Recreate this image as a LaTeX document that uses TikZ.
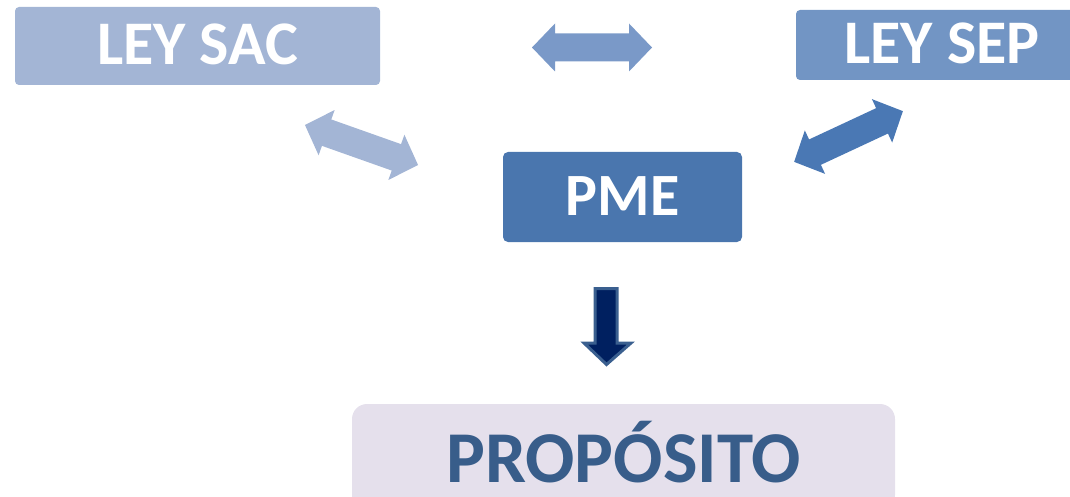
\documentclass[tikz,border=0pt]{standalone}
\usepackage{fontspec}
\setmainfont{Carlito}
\definecolor{sacblue}{HTML}{A3B5D5}
\definecolor{sepblue}{HTML}{7295C4}
\definecolor{pmeblue}{HTML}{4A76AE}
\definecolor{toparrow}{HTML}{7A99C8}
\definecolor{rightarrow}{HTML}{4A78B4}
\definecolor{proplilac}{HTML}{E5E0EC}
\definecolor{proptext}{HTML}{385D8A}
\definecolor{navy}{HTML}{002060}
\definecolor{navyedge}{HTML}{3A5F8F}
\newcommand{\dblarrowshape}[1]{%
  (-#1/2,0) -- (-#1/2+23,24) -- (-#1/2+23,14) -- (#1/2-23,14) -- (#1/2-23,24) --
  (#1/2,0) -- (#1/2-23,-24) -- (#1/2-23,-14) -- (-#1/2+23,-14) -- (-#1/2+23,-24) -- cycle}
\begin{document}
\begin{tikzpicture}[x=1pt,y=-1pt,
  whitetxt/.style={text=white, inner sep=0pt, font=\bfseries\fontsize{62}{62}\selectfont},
]
\useasboundingbox (0,0) rectangle (1070,497);
% boxes
\fill[sacblue, rounded corners=4pt] (15,7) rectangle (380,85);
\node[whitetxt] (sac) at (197.5,44) {LEY SAC};
\fill[sepblue, rounded corners=4pt] (796,10) rectangle (1080,80);
\node[whitetxt] (sep) at (942,43) {LEY SEP};
\fill[pmeblue, rounded corners=5pt] (503,152) rectangle (742,242);
\node[whitetxt, font=\bfseries\fontsize{60}{60}\selectfont] (pme) at (622.5,196) {PME};
\fill[proplilac, rounded corners=15pt] (352,404) rectangle (895,510);
\node[text=proptext, inner sep=0pt, font=\bfseries\fontsize{73}{73}\selectfont] (prop) at (623.5,452) {PROPÓSITO};
% double arrows
\fill[toparrow, shift={(592,47.5)}] \dblarrowshape{120};
\fill[sacblue, shift={(361.5,145)}, rotate=-19.5] \dblarrowshape{120};
\fill[rightarrow, shift={(848.5,136.5)}, rotate=25] \dblarrowshape{120};
% down arrow
\filldraw[fill=navy, draw=navyedge, line width=3pt, miter limit=10]
  (595,288.5) -- (617,288.5) -- (617,343) -- (631,343) -- (606.5,364.5)
  -- (584,343) -- (595,343) -- cycle;
\end{tikzpicture}
\end{document}
